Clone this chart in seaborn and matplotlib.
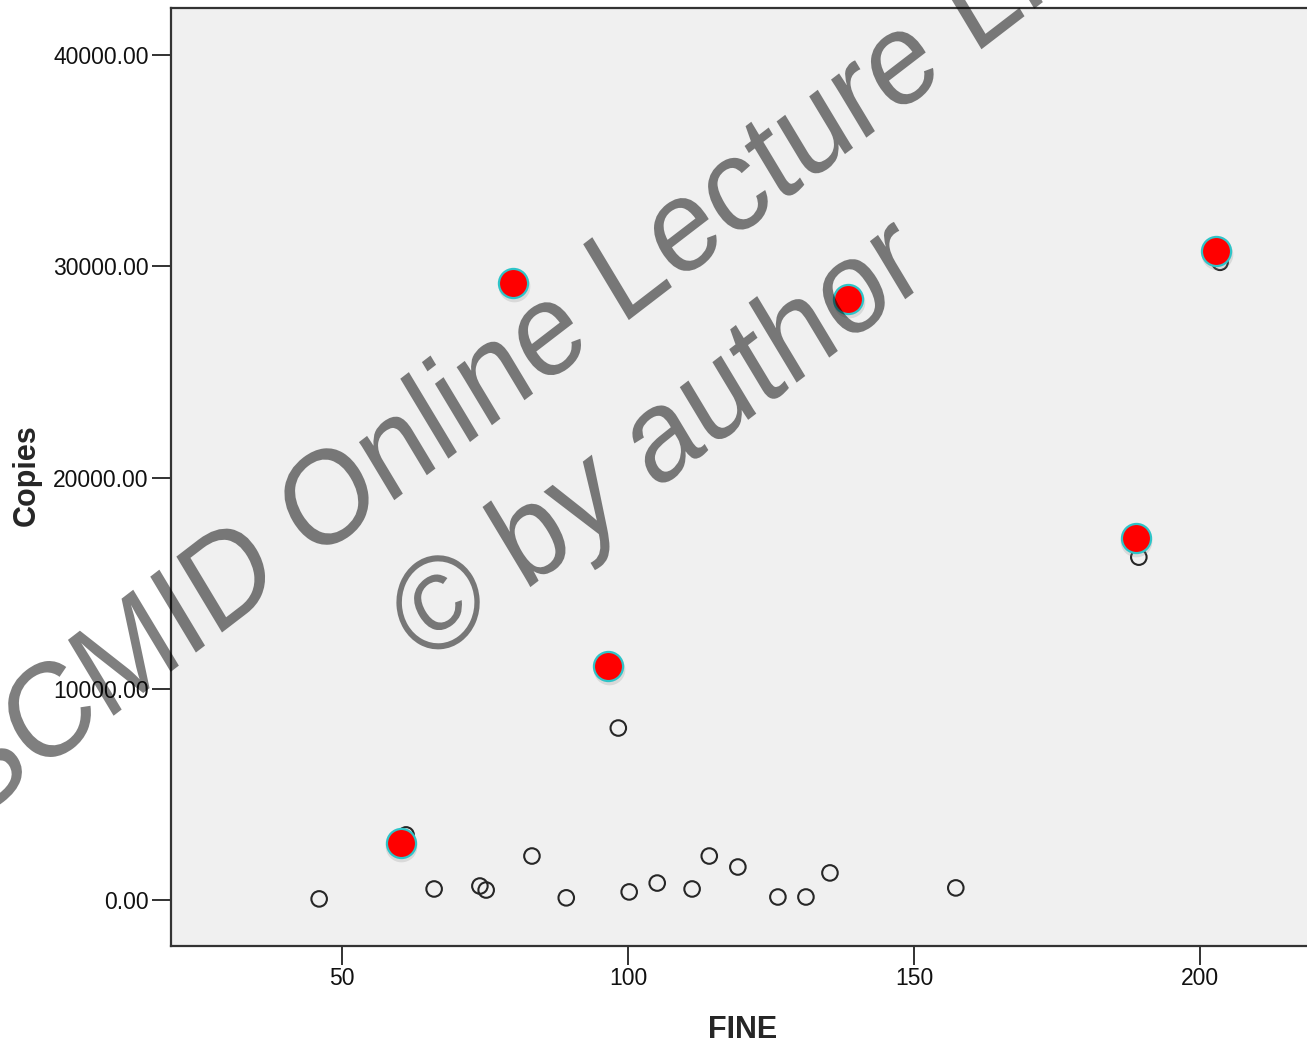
import numpy as np
import pandas as pd
import matplotlib
matplotlib.use("Agg")
import matplotlib.pyplot as plt
import matplotlib.transforms as mtransforms
from matplotlib.textpath import TextPath
from matplotlib.patches import PathPatch
from matplotlib.font_manager import FontProperties
import seaborn as sns

# ---- data ----
fine_open = [46, 66.1, 74.1, 75.2, 83.2, 89.2, 100.2, 105.1, 111.2, 114.2,
             119.2, 126.2, 131.1, 135.3, 157.3, 98.3, 61.2, 189.3, 203.5]
copies_open = [50, 520, 660, 470, 2080, 100, 380, 800, 520, 2080,
               1560, 140, 140, 1280, 570, 8140, 3080, 16230, 30190]

fine_red = [60.3, 79.9, 96.5, 138.5, 188.8, 202.8]
copies_red = [2700, 29200, 11070, 28440, 17130, 30710]

y_ticks = [0, 10000, 20000, 30000, 40000]
x_ticks = [50, 100, 150, 200]

W, H = 1307, 1047
sns.set_theme(style="white")
plt.rcParams['font.family'] = ['Liberation Sans', 'DejaVu Sans']

fig = plt.figure(figsize=(W / 100, H / 100), dpi=100)
fig.patch.set_facecolor("white")
ax = fig.add_axes([171 / W, 1 - 946 / H, 1 - 171 / W, (946 - 8) / H])
ax.set_facecolor("#f0f0f0")

df_open = pd.DataFrame({"FINE": fine_open, "Copies": copies_open})
df_red = pd.DataFrame({"FINE": fine_red, "Copies": copies_red})

sns.scatterplot(data=df_open, x="FINE", y="Copies", ax=ax, marker="o",
                s=125, facecolor="none", edgecolor="#262626", linewidth=1.5,
                zorder=3)
# soft shadow under the highlighted points
shadow_tr = mtransforms.offset_copy(ax.transData, fig=fig, x=0.5, y=-3, units="dots")
ax.scatter(fine_red, copies_red, s=520, color="#888888", alpha=0.22,
           linewidths=0, transform=shadow_tr, zorder=4)
sns.scatterplot(data=df_red, x="FINE", y="Copies", ax=ax, marker="o",
                s=440, color="#ff0000", edgecolor="#2ec4c8", linewidth=1.6,
                zorder=5)

ax.set_xlim(20.1, 218.7)
ax.set_ylim(-2180, 42230)
ax.set_xticks(x_ticks)
ax.set_yticks(y_ticks)
ax.set_yticklabels([f"{v:.2f}" for v in y_ticks])
ax.tick_params(axis="both", direction="out", length=14, width=1.3,
               color="#222222", labelsize=16.5, labelcolor="#111111",
               bottom=True, left=True, pad=2)
ax.tick_params(axis="x", pad=1)
for side in ["left", "bottom", "top"]:
    ax.spines[side].set_visible(True)
    ax.spines[side].set_color("#333333")
    ax.spines[side].set_linewidth(1.6)
ax.spines["right"].set_visible(False)

ax.set_xlabel("FINE", fontsize=22, fontweight="bold", va="center")
ax.set_ylabel("Copies", fontsize=22, fontweight="bold", va="center")
ax.xaxis.set_label_coords((743 - 171) / (W - 171), -(1030 - 946) / 938)
ax.yaxis.set_label_coords(-(171 - 27) / (W - 171), (946 - 475) / 938)
ax.grid(False)

# ---- watermark (rotated and slightly stretched vertically, as in the reference) ----
fp = FontProperties(family="Liberation Sans")
theta, stretch, em = 34.2, 1.13, 118


def watermark(text, x_img, y_img):
    path = TextPath((0, 0), text, size=em, prop=fp)
    tr = (mtransforms.Affine2D().rotate_deg(theta).scale(1, stretch)
          .translate(x_img, H - y_img))
    patch = PathPatch(path, facecolor="black", edgecolor="none", alpha=0.5,
                      transform=tr, zorder=10)
    fig.add_artist(patch)


watermark("SCMID Online Lecture Library", -30, 826)
watermark("\u00a9 by author", 425, 668)

fig.savefig("out.png", dpi=100, facecolor="white")
